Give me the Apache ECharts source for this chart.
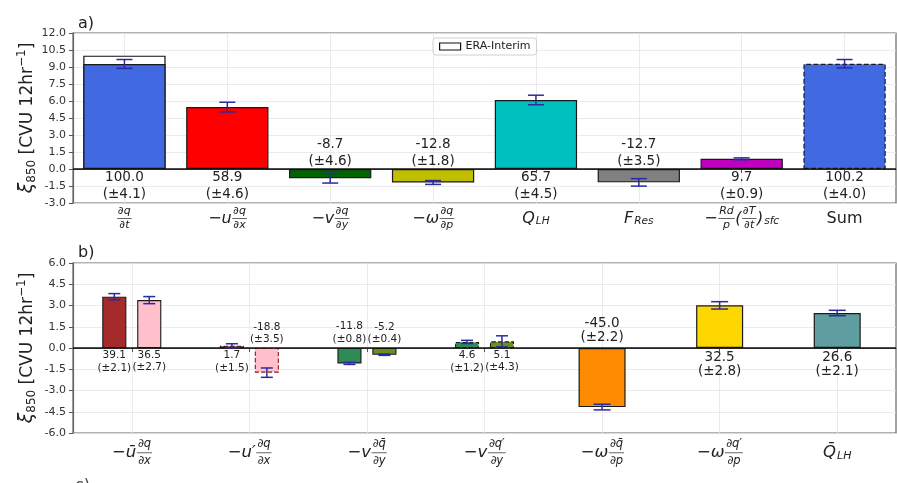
<!DOCTYPE html>
<html><head><meta charset="utf-8">
<script src="https://cdn.jsdelivr.net/npm/echarts@6/dist/echarts.min.js"></script>
<style>html,body{margin:0;padding:0;background:#fff}#c{width:897px;height:483px}</style>
</head><body><div id="c"></div>
<script>
// ================= Panel a) data =================
const catsA = ['dq/dt', '-u dq/dx', '-v dq/dy', '-w dq/dp', 'Q_LH', 'F_Res', '-Rd/p (dT/dt)sfc', 'Sum'];
const valuesA = [9.27, 5.46, -0.81, -1.19, 6.09, -1.18, 0.90, 9.29];
const errorsA = [0.39, 0.43, 0.43, 0.17, 0.42, 0.33, 0.08, 0.37];
const pctA = ['100.0', '58.9', '-8.7', '-12.8', '65.7', '-12.7', '9.7', '100.2'];
const pctErrA = ['4.1', '4.6', '4.6', '1.8', '4.5', '3.5', '0.9', '4.0'];
const eraInterimA = [10.0, null, null, null, null, null, null, null];
const colorsA = ['#4169e1', '#ff0000', '#006400', '#bfbf00', '#00bfbf', '#808080', '#bf00bf', '#4169e1'];
const dashedA = [false, false, false, false, false, false, false, true];
// tick label pieces: m = math (italic), u = upright, f = fraction [num, den], s = subscript
const tickSegA = [
  [['f', '∂q', '∂t']],
  [['m', '−u'], ['f', '∂q', '∂x']],
  [['m', '−v'], ['f', '∂q', '∂y']],
  [['m', '−ω'], ['f', '∂q', '∂p']],
  [['m', 'Q'], ['s', 'LH']],
  [['m', 'F'], ['s', 'Res']],
  [['m', '−'], ['f', 'Rd', 'p'], ['m', '('], ['f', '∂T', '∂t'], ['m', ')'], ['s', 'sfc']],
  [['u', 'Sum']]
];

// ================= Panel b) data =================
const catsB = ['-ubar dq/dx', "-u' dq/dx", '-v dqbar/dy', "-v dq'/dy", '-w dqbar/dp', "-w dq'/dp", 'Qbar_LH'];
const valuesB1 = [3.62, 0.16, -1.09, 0.43, null, null, null];
const errorsB1 = [0.22, 0.14, 0.07, 0.11, null, null, null];
const valuesB2 = [3.38, -1.74, -0.48, 0.47, null, null, null];
const errorsB2 = [0.25, 0.33, 0.04, 0.39, null, null, null];
const valuesBS = [null, null, null, null, -4.17, 3.01, 2.47];
const errorsBS = [null, null, null, null, 0.20, 0.26, 0.19];
const pctB1 = ['39.1', '1.7', '-11.8', '4.6'];
const pctErrB1 = ['2.1', '1.5', '0.8', '1.2'];
const pctB2 = ['36.5', '-18.8', '-5.2', '5.1'];
const pctErrB2 = ['2.7', '3.5', '0.4', '4.3'];
const pctBS = [null, null, null, null, '-45.0', '32.5', '26.6'];
const pctErrBS = [null, null, null, null, '2.2', '2.8', '2.1'];
const colorsB1 = ['#a52a2a', '#a52a2a', '#2e8b57', '#2e8b57'];
const colorsB2 = ['#ffc0cb', '#ffc0cb', '#6b8e23', '#6b8e23'];
const dashedB = [false, true, false, true];
const colorsBS = [null, null, null, null, '#ff8c00', '#ffd700', '#5f9ea0'];
const tickSegB = [
  [['m', '−ū'], ['f', '∂q', '∂x']],
  [['m', '−u′'], ['f', '∂q', '∂x']],
  [['m', '−v'], ['f', '∂q̄', '∂y']],
  [['m', '−v'], ['f', '∂q′', '∂y']],
  [['m', '−ω'], ['f', '∂q̄', '∂p']],
  [['m', '−ω'], ['f', '∂q′', '∂p']],
  [['m', 'Q̄'], ['s', 'LH']]
];

// ================= helpers =================
const FF = 'DejaVu Sans';
const TXT = '#222';
const ERRC = '#2b2b9e';
const measCtx = document.createElement('canvas').getContext('2d');
function tw(text, font) { measCtx.font = font; return measCtx.measureText(text).width; }

function buildMathLabels(prefix, segs, cfg) {
  const rich = {}; const texts = [];
  segs.forEach((label, li) => {
    const l1 = [], l2 = [], l3 = [];
    label.forEach((seg, si) => {
      const k = prefix + li + '_' + si;
      const type = seg[0];
      if (type === 'f') {
        const fFont = 'italic ' + cfg.frac + 'px ' + FF;
        const w = Math.max(tw(seg[1], fFont), tw(seg[2], fFont)) + 2;
        const st = { fontFamily: FF, fontStyle: 'italic', fontSize: cfg.frac, width: w, align: 'center', lineHeight: cfg.lh, color: TXT };
        rich[k + 'n'] = st;
        rich[k + 'd'] = st;
        rich[k + 'b'] = { width: w, height: 1, backgroundColor: '#666', align: 'center', lineHeight: cfg.lh, fontSize: 1 };
        l1.push('{' + k + 'n|' + seg[1] + '}');
        l2.push('{' + k + 'b| }');
        l3.push('{' + k + 'd|' + seg[2] + '}');
      } else {
        const isSub = type === 's';
        const upright = type === 'u';
        const size = isSub ? cfg.sub : cfg.main;
        const font = (upright ? '' : 'italic ') + size + 'px ' + FF;
        const w = tw(seg[1], font) + 1;
        const st = { fontFamily: FF, fontStyle: upright ? 'normal' : 'italic', fontSize: size, width: w, align: 'center', lineHeight: cfg.lh, color: TXT };
        if (isSub) st.padding = [cfg.subShift * 2, 0, 0, 0];
        rich[k] = st;
        rich[k + 'x'] = { width: w, align: 'center', lineHeight: cfg.lh, fontSize: 1 };
        l1.push('{' + k + 'x| }');
        l2.push('{' + k + '|' + seg[1] + '}');
        l3.push('{' + k + 'x| }');
      }
    });
    texts.push(l1.join('') + '\n' + l2.join('') + '\n' + l3.join(''));
  });
  return { rich, texts };
}

const labA = buildMathLabels('a', tickSegA, { main: 16, frac: 11, sub: 10.5, lh: 7, subShift: 3 });
const labB = buildMathLabels('b', tickSegB, { main: 16.5, frac: 11.5, sub: 11, lh: 8.5, subShift: 3 });

function errRender(halfCap, offsetFrac) {
  return function (params, api) {
    const i = api.value(0), v = api.value(1), e = api.value(2);
    if (v == null || isNaN(v)) return;
    const bw = api.size([1, 0])[0];
    const dx = offsetFrac * bw;
    const p1 = api.coord([i, v + e]);
    const p2 = api.coord([i, v - e]);
    const x = p1[0] + dx;
    const st = { stroke: ERRC, lineWidth: 1.5 };
    return {
      type: 'group',
      children: [
        { type: 'line', shape: { x1: x, y1: p1[1], x2: x, y2: p2[1] }, style: st },
        { type: 'line', shape: { x1: x - halfCap, y1: p1[1], x2: x + halfCap, y2: p1[1] }, style: st },
        { type: 'line', shape: { x1: x - halfCap, y1: p2[1], x2: x + halfCap, y2: p2[1] }, style: st }
      ]
    };
  };
}

const PAIR_W = 0.205, PAIR_GAP = 0.45;
const pairOff = PAIR_W * (1 + PAIR_GAP) / 2;

const axisLineSt = { show: true, lineStyle: { color: '#666', width: 1.2 } };
const tickSt = { show: true, length: 4, lineStyle: { color: '#555', width: 1 } };
const splitSt = { show: true, lineStyle: { color: '#e6e6e6', width: 0.8 } };

function yAxisCfg(gi, min, max) {
  return {
    type: 'value', gridIndex: gi, min: min, max: max, interval: 1.5,
    axisLine: axisLineSt, axisTick: tickSt, splitLine: splitSt,
    axisLabel: { formatter: v => v.toFixed(1), fontSize: 11, fontFamily: FF, color: '#333', margin: 7 },
    name: '{xi|ξ}{sb|850}{t| [CVU 12hr}{sp|−1}{t|]}',
    nameLocation: 'middle', nameRotate: 90, nameGap: 34, nameMoveOverlap: false,
    nameTextStyle: {
      color: TXT, fontFamily: FF,
      rich: {
        xi: { fontSize: 19, fontStyle: 'italic', fontFamily: FF, color: TXT },
        sb: { fontSize: 12, fontFamily: FF, color: TXT, padding: [8, 0, 0, 0] },
        t: { fontSize: 17, fontFamily: FF, color: TXT },
        sp: { fontSize: 12, fontFamily: FF, color: TXT, padding: [0, 0, 11, 0] }
      }
    }
  };
}

function valLabel(pcts, errs, fs, lh, dPos, dNeg, vals) {
  return vals.map((v, i) => v == null ? null : ({
    show: true,
    position: v >= 0 ? 'bottom' : 'top',
    distance: v >= 0 ? dPos : dNeg,
    formatter: pcts[i] + '\n(±' + errs[i] + ')',
    fontSize: fs, lineHeight: lh, fontFamily: FF, color: TXT
  }));
}

const labsA = valLabel(pctA, pctErrA, 13.5, 16.7, 0.5, -1, valuesA);
const labsB1 = valLabel(pctB1, pctErrB1, 10.5, 13, 1, 2.4, valuesB1.slice(0, 4));
const labsB2 = valLabel(pctB2, pctErrB2, 10.5, 12.5, 1, 2.4, valuesB2.slice(0, 4));
const labsBS = valLabel(pctBS, pctErrBS, 13.5, 14.2, 2, 3, valuesBS);

const zeroLine = {
  silent: true, symbol: 'none', label: { show: false },
  lineStyle: { color: '#111', width: 1.6, type: 'solid' },
  data: [{ yAxis: 0 }]
};

const option = {
  animation: false,
  backgroundColor: '#fff',
  title: [
    { text: 'a)', left: 73, top: 11, textStyle: { fontSize: 16, fontWeight: 'normal', fontFamily: FF, color: TXT } },
    { text: 'b)', left: 73, top: 240, textStyle: { fontSize: 16, fontWeight: 'normal', fontFamily: FF, color: TXT } }
  ],
  graphic: [
    { type: 'text', left: 75, top: 478, style: { text: 'c)', fontSize: 16, fontFamily: FF, fill: '#444' } }
  ],
  legend: {
    data: ['ERA-Interim'], left: 433, top: 38, icon: 'rect', itemWidth: 21, itemHeight: 7,
    padding: [3, 6], backgroundColor: 'rgba(255,255,255,0.85)', borderColor: '#d0d0d0', borderWidth: 1, borderRadius: 3,
    itemStyle: { color: '#fff', borderColor: '#111', borderWidth: 1.2 },
    textStyle: { fontSize: 11, fontFamily: FF, color: TXT }
  },
  grid: [
    { left: 73, right: 1, top: 33, height: 170, show: true, borderColor: '#666', borderWidth: 1.2, backgroundColor: 'transparent', outerBoundsMode: 'none' },
    { left: 73, right: 1, top: 263, height: 170, show: true, borderColor: '#666', borderWidth: 1.2, backgroundColor: 'transparent', outerBoundsMode: 'none' }
  ],
  xAxis: [
    {
      type: 'category', gridIndex: 0, data: catsA,
      axisLine: axisLineSt, axisTick: Object.assign({ alignWithLabel: true }, tickSt),
      splitLine: Object.assign({ alignWithLabel: true }, splitSt),
      axisLabel: { interval: 0, margin: 5, formatter: (v, i) => labA.texts[i], rich: labA.rich }
    },
    {
      type: 'category', gridIndex: 1, data: catsB,
      axisLine: axisLineSt, axisTick: Object.assign({ alignWithLabel: true }, tickSt),
      splitLine: Object.assign({ alignWithLabel: true }, splitSt),
      axisLabel: { interval: 0, margin: 7, formatter: (v, i) => labB.texts[i], rich: labB.rich }
    },
    { type: 'category', gridIndex: 1, data: catsB, show: false }
  ],
  yAxis: [yAxisCfg(0, -3, 12), yAxisCfg(1, -6, 6)],
  series: [
    {
      name: 'ERA-Interim', type: 'bar', xAxisIndex: 0, yAxisIndex: 0, data: eraInterimA,
      barWidth: '80%', barGap: '-100%',
      itemStyle: { color: '#fff', borderColor: '#111', borderWidth: 1.2 }
    },
    {
      name: 'a', type: 'bar', xAxisIndex: 0, yAxisIndex: 0, barWidth: '80%',
      data: valuesA.map((v, i) => ({
        value: v,
        itemStyle: { color: colorsA[i], borderColor: '#1a1a1a', borderWidth: 1.2, borderType: dashedA[i] ? 'dashed' : 'solid' },
        label: labsA[i]
      })),
      markLine: zeroLine
    },
    {
      name: 'errA', type: 'custom', xAxisIndex: 0, yAxisIndex: 0,
      data: valuesA.map((v, i) => [i, v, errorsA[i]]),
      encode: { x: 0, y: 1 }, renderItem: errRender(8, 0), z: 5
    },
    {
      name: 'b1', type: 'bar', xAxisIndex: 1, yAxisIndex: 1, barWidth: (PAIR_W * 100) + '%', barGap: (PAIR_GAP * 100) + '%',
      data: valuesB1.map((v, i) => v == null ? null : ({
        value: v,
        itemStyle: { color: colorsB1[i], borderColor: '#1a1a1a', borderWidth: 1.1, borderType: dashedB[i] ? 'dashed' : 'solid' },
        label: labsB1[i]
      }))
    },
    {
      name: 'b2', type: 'bar', xAxisIndex: 1, yAxisIndex: 1, barWidth: (PAIR_W * 100) + '%', barGap: (PAIR_GAP * 100) + '%',
      data: valuesB2.map((v, i) => v == null ? null : ({
        value: v,
        itemStyle: { color: colorsB2[i], borderColor: i === 1 ? '#8b1a1a' : '#1a1a1a', borderWidth: 1.1, borderType: dashedB[i] ? 'dashed' : 'solid' },
        label: labsB2[i]
      }))
    },
    {
      name: 'bs', type: 'bar', xAxisIndex: 2, yAxisIndex: 1, barWidth: '40%',
      data: valuesBS.map((v, i) => v == null ? null : ({
        value: v,
        itemStyle: { color: colorsBS[i], borderColor: '#1a1a1a', borderWidth: 1.2 },
        label: labsBS[i]
      })),
      markLine: zeroLine
    },
    {
      name: 'errB1', type: 'custom', xAxisIndex: 1, yAxisIndex: 1,
      data: valuesB1.map((v, i) => [i, v, errorsB1[i]]).filter(d => d[1] != null),
      encode: { x: 0, y: 1 }, renderItem: errRender(6, -pairOff), z: 5
    },
    {
      name: 'errB2', type: 'custom', xAxisIndex: 1, yAxisIndex: 1,
      data: valuesB2.map((v, i) => [i, v, errorsB2[i]]).filter(d => d[1] != null),
      encode: { x: 0, y: 1 }, renderItem: errRender(6, pairOff), z: 5
    },
    {
      name: 'errBS', type: 'custom', xAxisIndex: 2, yAxisIndex: 1,
      data: valuesBS.map((v, i) => [i, v, errorsBS[i]]).filter(d => d[1] != null),
      encode: { x: 0, y: 1 }, renderItem: errRender(8.5, 0), z: 5
    }
  ]
};

const chart = echarts.init(document.getElementById('c'), null, { renderer: 'canvas' });
chart.setOption(option);
</script>
</body></html>
